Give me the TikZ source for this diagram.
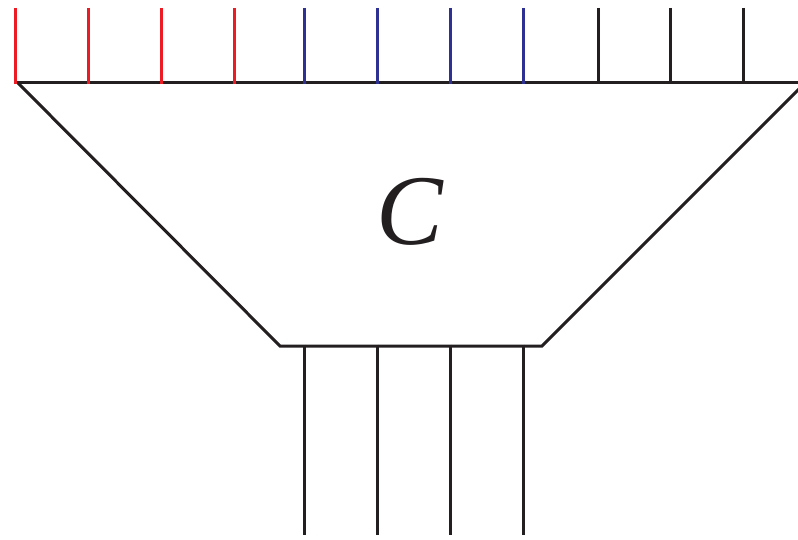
\documentclass[tikz,border=0pt]{standalone}
\usepackage{fontspec}
\setmainfont{Liberation Serif}
\definecolor{legred}{HTML}{ED1C24}
\definecolor{legblue}{HTML}{2E3192}
\definecolor{legblack}{HTML}{231F20}
\begin{document}
\begin{tikzpicture}[x=1pt,y=-1pt,
  leg/.style={line width=3pt,line cap=butt},
  edge/.style={line width=3pt,color=legblack,line join=miter}]
\useasboundingbox (0,0) rectangle (798,540);
\clip (0,0) rectangle (798,540);
% trapezoid
\coordinate (tl) at (15,83);
\coordinate (tr) at (810,83);
\coordinate (bl) at (280,346);
\coordinate (br) at (542,346);
\draw[edge] (tl) -- (tr);
\draw[edge] (18,83) -- (bl) -- (br) -- (805,83);
% top legs
\foreach \x/\c in {15/legred,88/legred,161/legred,234/legred,304/legblue,377/legblue,450/legblue,523/legblue,598/legblack,670/legblack,743/legblack}{
  \coordinate (t\x) at (\x,8);
  \coordinate (b\x) at (\x,84.5);
  \draw[leg,color=\c] (t\x) -- (b\x);
}
% bottom legs
\foreach \x in {304,377,450,523}{
  \coordinate (u\x) at (\x,344.5);
  \coordinate (d\x) at (\x,535);
  \draw[leg,color=legblack] (u\x) -- (d\x);
}
\node[font=\fontsize{100}{100}\selectfont\itshape,text=legblack] (C) at (410,212) {C};
\end{tikzpicture}
\end{document}
